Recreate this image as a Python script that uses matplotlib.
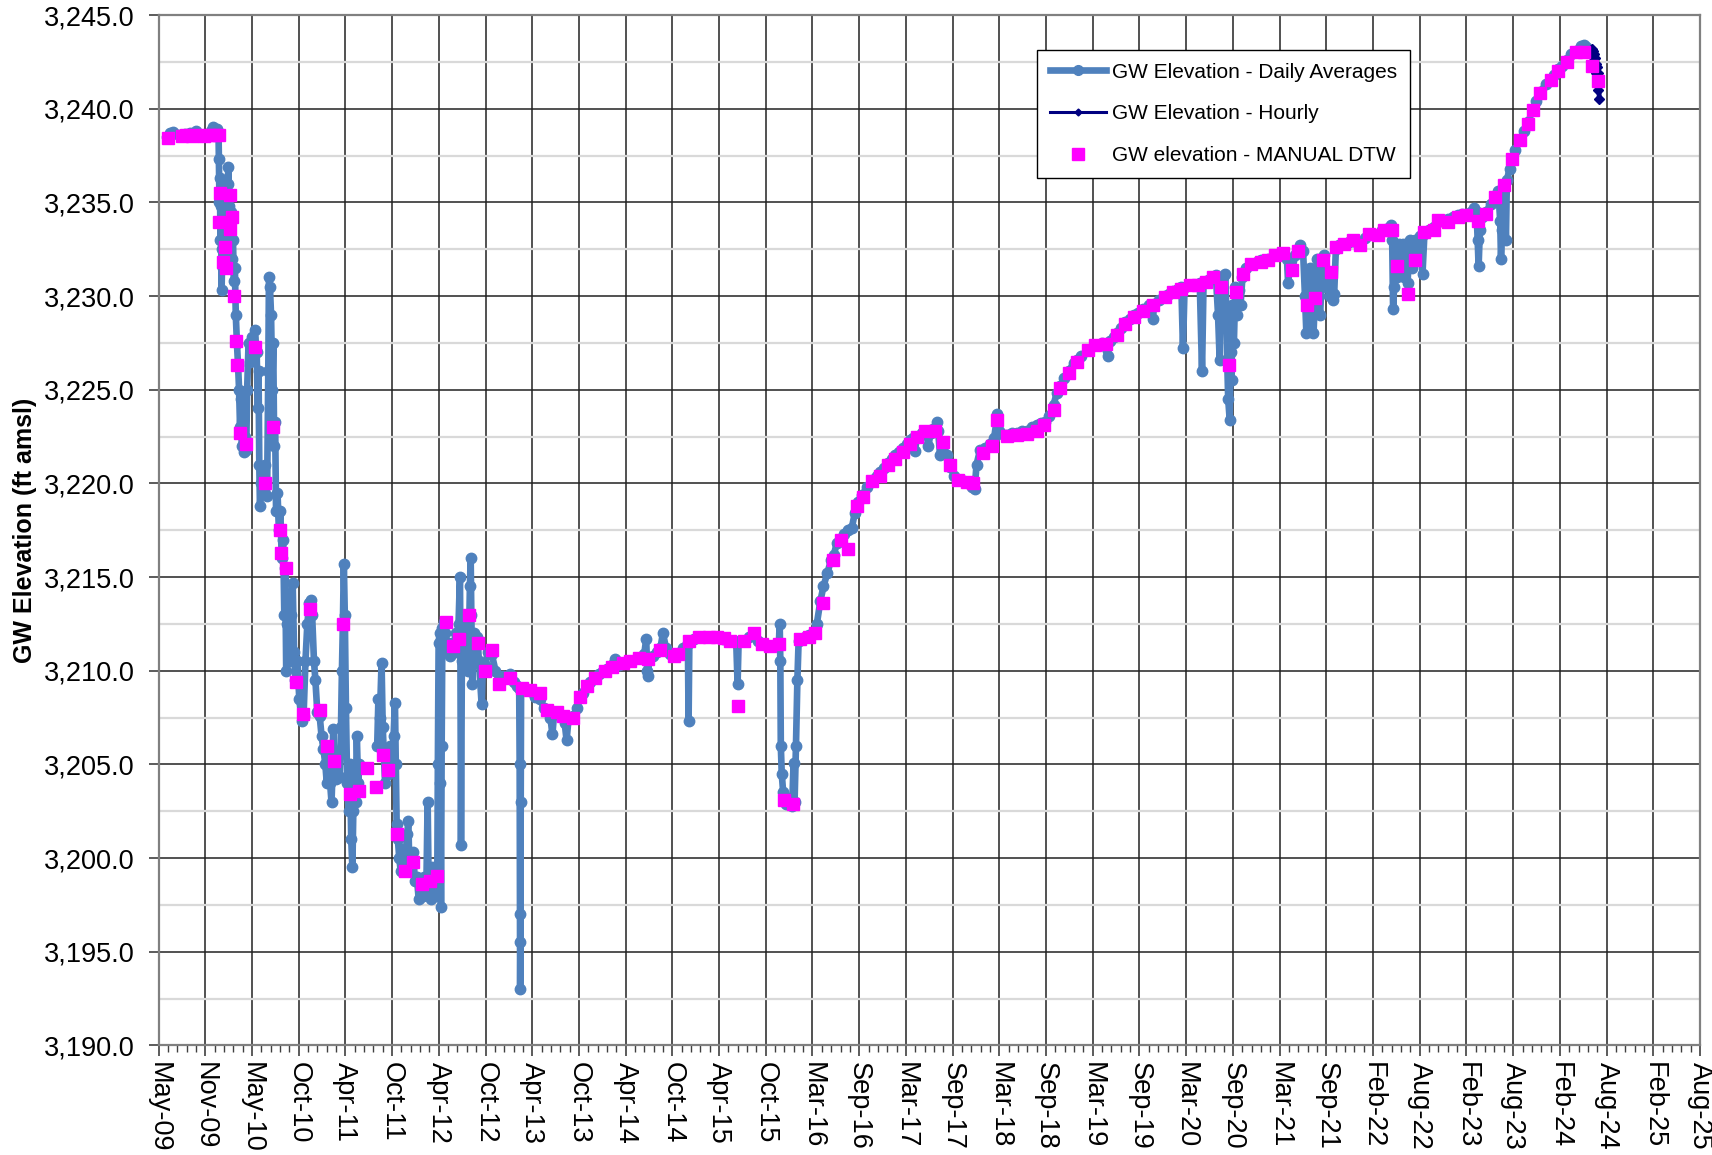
import numpy as np
import matplotlib
matplotlib.use('Agg')
import matplotlib.pyplot as plt
import matplotlib.dates as mdates
from matplotlib.ticker import FixedLocator, FuncFormatter, MultipleLocator
from matplotlib.lines import Line2D

plt.rcParams['font.family'] = ['Liberation Sans', 'DejaVu Sans']

# GW elevation, daily averages: (decimal year, ft amsl). None = gap in logger record
daily_2009_2010 = [
    (2009.430, 3238.5), (2009.470, 3238.7), (2009.500, 3238.75), (2009.560, 3238.6),
    (2009.620, 3238.65), (2009.680, 3238.7), (2009.745, 3238.8), (2009.800, 3238.6),
    (2009.850, 3238.6), (2009.900, 3238.8), (2009.920, 3239.0), (2009.960, 3238.9),
    (2009.978, 3238.7), (2009.982, 3237.3), (2009.988, 3235.0), (2009.993, 3236.3),
    (2009.998, 3233.0), (2010.004, 3234.8), (2010.010, 3230.3), (2010.018, 3232.5),
    (2010.026, 3231.5), (2010.035, 3234.0), (2010.045, 3232.0), (2010.055, 3235.2),
    (2010.065, 3233.5), (2010.075, 3236.0), (2010.082, 3236.9), (2010.090, 3234.8),
    (2010.100, 3233.2), (2010.110, 3234.5), (2010.120, 3232.0), (2010.130, 3233.0),
    (2010.140, 3230.8), (2010.150, 3231.5), (2010.160, 3229.0), (2010.172, 3227.5),
    (2010.184, 3226.3), (2010.195, 3225.0), (2010.205, 3223.0), (2010.215, 3224.5),
    (2010.225, 3222.0), (2010.235, 3223.5), (2010.245, 3221.7), (2010.258, 3222.5),
    (2010.270, 3221.8), (2010.280, 3225.0), (2010.295, 3227.5), (2010.315, 3226.5),
    (2010.335, 3227.8), (2010.360, 3228.2), (2010.380, 3227.0), (2010.393, 3224.0),
    (2010.400, 3226.0), (2010.408, 3221.0), (2010.415, 3218.8), (2010.430, 3220.0),
    (2010.450, 3219.5), (2010.470, 3221.0), (2010.490, 3219.3), (2010.503, 3226.0),
    (2010.510, 3231.0), (2010.520, 3230.5), (2010.532, 3229.0), (2010.545, 3225.0),
    (2010.555, 3227.5), (2010.565, 3222.0), (2010.575, 3223.3), (2010.585, 3218.5),
]

daily_2010_2012 = [
    (2010.600, 3219.5), (2010.615, 3217.5), (2010.630, 3218.5), (2010.645, 3216.0),
    (2010.660, 3217.0), (2010.672, 3213.0), (2010.682, 3215.5), (2010.692, 3210.0),
    (2010.705, 3212.5), (2010.720, 3210.5), (2010.740, 3213.0), (2010.760, 3214.7),
    (2010.775, 3211.0), (2010.790, 3209.5), (2010.810, 3210.5), (2010.830, 3208.5),
    (2010.855, 3207.3), (2010.875, 3207.6), (2010.895, 3210.5), (2010.915, 3212.5),
    (2010.935, 3213.6), (2010.950, 3213.8), (2010.965, 3213.0), (2010.985, 3210.5),
    (2011.000, 3209.5), (2011.020, 3207.8), (2011.045, 3207.6), (2011.065, 3206.5),
    (2011.085, 3205.8), (2011.105, 3205.0), (2011.120, 3204.0), (2011.140, 3205.5),
    (2011.155, 3204.0), (2011.170, 3203.0), (2011.180, 3204.5), (2011.188, 3206.9),
    (2011.200, 3205.0), (2011.215, 3204.2), (2011.235, 3205.5), (2011.255, 3204.3),
    (2011.270, 3207.0), (2011.280, 3210.0), (2011.290, 3212.5), (2011.300, 3215.7),
    (2011.310, 3213.0), (2011.322, 3208.0), (2011.335, 3204.0), (2011.350, 3202.5),
    (2011.365, 3205.0), (2011.378, 3201.0), (2011.390, 3199.5), (2011.400, 3202.5),
    (2011.412, 3204.5), (2011.425, 3203.0), (2011.437, 3206.5), (2011.450, 3204.0),
    (2011.465, 3205.0), (2011.550, None),
    (2011.652, 3206.0), (2011.665, 3208.5), (2011.680, 3207.5), (2011.698, 3210.4),
    (2011.710, 3207.0), (2011.722, 3205.5), (2011.735, 3204.0), (2011.750, 3205.3),
    (2011.770, 3204.5), (2011.790, 3206.0), (2011.810, 3205.0), (2011.825, 3206.5),
    (2011.839, 3208.3), (2011.848, 3205.0), (2011.857, 3201.8), (2011.870, 3201.0),
    (2011.885, 3200.0), (2011.900, 3199.3), (2011.915, 3200.5), (2011.930, 3199.5),
    (2011.950, 3200.0), (2011.970, 3201.3), (2011.980, 3202.0), (2011.990, 3199.8),
    (2012.010, 3199.5), (2012.030, 3200.3), (2012.050, 3198.8), (2012.070, 3199.0),
    (2012.090, 3197.8), (2012.110, 3198.6), (2012.130, 3198.0), (2012.150, 3199.0),
    (2012.170, 3198.2), (2012.184, 3203.0), (2012.195, 3198.5), (2012.215, 3197.8),
    (2012.235, 3199.5), (2012.255, 3198.0), (2012.270, 3199.0), (2012.285, 3198.0),
    (2012.292, 3205.0), (2012.300, 3211.5), (2012.310, 3212.0), (2012.318, 3204.0),
    (2012.325, 3197.4), (2012.332, 3206.0), (2012.340, 3212.3),
]

daily_2012_2014 = [
    (2012.355, 3212.6), (2012.370, 3212.0), (2012.385, 3211.0), (2012.400, 3211.5),
    (2012.420, 3210.8), (2012.440, 3211.5), (2012.460, 3211.0), (2012.480, 3212.0),
    (2012.495, 3211.0), (2012.510, 3212.5), (2012.525, 3215.0), (2012.530, 3211.0),
    (2012.536, 3200.7), (2012.545, 3210.5), (2012.560, 3211.5), (2012.580, 3211.0),
    (2012.600, 3212.5), (2012.615, 3210.0), (2012.630, 3214.5), (2012.638, 3216.0),
    (2012.645, 3213.0), (2012.655, 3209.3), (2012.670, 3212.0), (2012.690, 3211.3),
    (2012.710, 3211.8), (2012.725, 3210.5), (2012.754, 3208.2), (2012.765, 3210.0),
    (2012.790, 3210.3), (2012.820, 3211.0), (2012.860, 3210.9), (2012.900, 3210.0),
    (2012.937, 3209.4), (2012.980, 3209.7), (2013.020, 3209.6), (2013.054, 3209.8),
    (2013.090, 3209.4), (2013.130, 3209.2), (2013.150, 3209.1), (2013.155, 3205.0),
    (2013.158, 3197.0), (2013.160, 3193.0), (2013.163, 3195.5), (2013.166, 3203.0),
    (2013.170, 3209.1), (2013.210, 3209.0), (2013.265, 3208.9), (2013.320, 3208.6),
    (2013.370, 3208.5), (2013.410, 3208.0), (2013.440, 3207.9), (2013.480, 3207.5),
    (2013.500, 3206.6), (2013.520, 3207.8), (2013.550, 3207.7), (2013.590, 3207.6),
    (2013.630, 3207.2), (2013.650, 3206.3), (2013.670, 3207.4), (2013.720, 3207.6),
    (2013.760, 3208.0), (2013.790, 3208.6), (2013.820, 3208.8), (2013.863, 3209.2),
    (2013.900, 3209.4), (2013.950, 3209.6),
]

daily_2014_2016 = [
    (2013.990, 3209.8), (2014.030, 3210.0), (2014.080, 3210.1), (2014.127, 3210.3),
    (2014.162, 3210.6), (2014.200, 3210.3), (2014.250, 3210.4), (2014.320, 3210.5),
    (2014.400, 3210.7), (2014.470, 3210.9), (2014.490, 3211.7), (2014.500, 3210.0),
    (2014.510, 3209.7), (2014.520, 3210.6), (2014.560, 3210.8), (2014.600, 3211.0),
    (2014.640, 3211.2), (2014.666, 3212.0), (2014.700, 3211.2), (2014.740, 3210.9),
    (2014.780, 3210.8), (2014.830, 3210.9), (2014.880, 3211.2), (2014.930, 3211.5),
    (2014.937, 3207.3), (2014.945, 3211.5), (2014.990, 3211.7), (2015.040, 3211.8),
    (2015.100, 3211.8), (2015.150, 3211.8), (2015.230, 3211.8), (2015.300, 3211.7),
    (2015.370, 3211.6), (2015.440, 3211.5), (2015.454, 3209.3), (2015.465, 3211.6),
    (2015.520, 3211.6), (2015.570, 3211.8), (2015.620, 3211.9), (2015.670, 3211.6),
    (2015.710, 3211.4), (2015.760, 3211.3), (2015.800, 3211.3), (2015.850, 3211.3),
    (2015.890, 3211.5), (2015.898, 3212.5), (2015.905, 3210.5), (2015.910, 3206.0),
    (2015.920, 3204.5), (2015.935, 3203.5), (2015.950, 3203.0), (2015.970, 3202.9),
    (2015.990, 3203.2), (2016.010, 3203.0), (2016.030, 3202.8), (2016.045, 3205.1),
    (2016.055, 3203.0), (2016.070, 3206.0), (2016.085, 3209.5), (2016.098, 3211.6),
    (2016.130, 3211.7), (2016.170, 3211.8), (2016.210, 3211.9), (2016.250, 3212.0),
    (2016.290, 3212.5), (2016.327, 3213.7), (2016.360, 3214.5), (2016.400, 3215.2),
    (2016.440, 3215.9),
]

daily_2016_2019 = [
    (2016.470, 3216.2), (2016.500, 3216.8), (2016.540, 3217.0), (2016.580, 3217.3),
    (2016.620, 3217.5), (2016.658, 3217.6), (2016.690, 3218.4), (2016.720, 3219.0),
    (2016.770, 3219.4), (2016.820, 3219.8), (2016.870, 3220.2), (2016.920, 3220.4),
    (2016.960, 3220.6), (2017.000, 3220.8), (2017.045, 3221.1), (2017.080, 3221.3),
    (2017.116, 3221.5), (2017.160, 3221.7), (2017.200, 3221.9), (2017.240, 3222.1),
    (2017.274, 3222.3), (2017.310, 3222.4), (2017.327, 3221.75), (2017.344, 3222.5),
    (2017.400, 3222.7), (2017.440, 3222.8), (2017.468, 3222.0), (2017.490, 3222.7),
    (2017.520, 3222.9), (2017.556, 3223.3), (2017.570, 3222.8), (2017.590, 3221.5),
    (2017.626, 3222.0), (2017.660, 3221.5), (2017.696, 3220.9), (2017.740, 3220.4),
    (2017.790, 3220.2), (2017.840, 3220.1), (2017.880, 3220.0), (2017.930, 3219.8),
    (2017.955, 3219.7), (2017.975, 3221.0), (2018.013, 3221.8), (2018.060, 3221.9),
    (2018.120, 3222.1), (2018.160, 3222.4), (2018.196, 3223.7), (2018.210, 3222.8),
    (2018.260, 3222.6), (2018.300, 3222.6), (2018.350, 3222.7), (2018.400, 3222.7),
    (2018.450, 3222.8), (2018.506, 3222.8), (2018.560, 3223.0), (2018.612, 3223.1),
    (2018.660, 3223.2), (2018.700, 3223.3), (2018.740, 3223.6), (2018.788, 3224.2),
    (2018.820, 3224.8), (2018.858, 3225.2), (2018.900, 3225.6), (2018.946, 3226.0),
    (2019.000, 3226.4), (2019.034, 3226.6),
]

daily_2019_2021 = [
    (2019.080, 3226.8), (2019.150, 3227.1), (2019.220, 3227.4), (2019.300, 3227.5),
    (2019.361, 3226.8), (2019.380, 3227.6), (2019.420, 3227.8), (2019.460, 3228.0),
    (2019.500, 3228.3), (2019.537, 3228.6), (2019.590, 3228.8), (2019.636, 3229.0),
    (2019.680, 3229.1), (2019.730, 3229.3), (2019.790, 3229.5), (2019.836, 3228.8),
    (2019.850, 3229.6), (2019.900, 3229.8), (2019.960, 3230.0), (2020.010, 3230.1),
    (2020.048, 3230.25), (2020.100, 3230.4), (2020.136, 3230.5), (2020.153, 3227.2),
    (2020.170, 3230.5), (2020.224, 3230.6), (2020.280, 3230.6), (2020.330, 3230.7),
    (2020.354, 3226.0), (2020.370, 3230.7), (2020.400, 3230.8), (2020.440, 3230.9),
    (2020.470, 3231.0), (2020.500, 3231.1), (2020.523, 3229.0), (2020.540, 3226.6),
    (2020.550, 3230.5), (2020.580, 3231.0), (2020.600, 3231.2), (2020.610, 3229.0),
    (2020.620, 3226.5), (2020.630, 3224.5), (2020.646, 3223.4), (2020.655, 3227.0),
    (2020.665, 3225.5), (2020.675, 3229.5), (2020.690, 3227.5), (2020.705, 3230.5),
    (2020.720, 3229.0), (2020.740, 3230.3), (2020.760, 3229.5), (2020.780, 3231.0),
    (2020.820, 3231.5), (2020.875, 3231.7), (2020.930, 3231.8), (2020.980, 3231.9),
    (2021.050, 3232.0), (2021.121, 3232.2), (2021.210, 3232.3), (2021.250, 3232.0),
    (2021.262, 3230.7), (2021.280, 3231.5), (2021.304, 3231.4), (2021.340, 3232.2),
    (2021.385, 3232.7), (2021.420, 3232.4), (2021.440, 3230.0), (2021.455, 3228.0),
    (2021.470, 3230.5), (2021.490, 3231.5), (2021.510, 3229.0), (2021.530, 3228.0),
    (2021.550, 3230.5), (2021.570, 3232.0), (2021.585, 3230.0), (2021.600, 3229.0),
    (2021.620, 3231.5), (2021.640, 3232.2), (2021.660, 3230.5), (2021.680, 3231.2),
    (2021.700, 3230.0), (2021.715, 3231.3), (2021.735, 3229.8),
]

daily_2021_2024 = [
    (2021.748, 3230.1), (2021.766, 3232.5), (2021.800, 3232.7), (2021.854, 3232.8),
    (2021.900, 3232.9), (2021.942, 3233.0), (2021.980, 3232.9), (2022.023, 3232.7),
    (2022.070, 3233.1), (2022.118, 3233.3), (2022.160, 3233.3), (2022.206, 3233.3),
    (2022.250, 3233.5), (2022.300, 3233.6), (2022.346, 3233.8), (2022.360, 3233.0),
    (2022.370, 3229.3), (2022.380, 3230.5), (2022.395, 3232.5), (2022.410, 3231.0),
    (2022.430, 3232.8), (2022.450, 3231.5), (2022.470, 3232.8), (2022.490, 3231.0),
    (2022.510, 3232.5), (2022.522, 3230.7), (2022.545, 3233.0), (2022.570, 3231.5),
    (2022.600, 3233.0), (2022.620, 3232.0), (2022.650, 3233.2), (2022.680, 3231.2),
    (2022.700, 3233.3), (2022.750, 3233.5), (2022.797, 3233.7), (2022.839, 3234.0),
    (2022.890, 3234.0), (2022.945, 3234.1), (2023.000, 3234.2), (2023.050, 3234.3),
    (2023.100, 3234.4), (2023.138, 3234.4), (2023.190, 3234.5), (2023.226, 3234.7),
    (2023.250, 3234.5), (2023.262, 3233.0), (2023.272, 3231.6), (2023.285, 3233.5),
    (2023.310, 3234.2), (2023.350, 3234.5), (2023.400, 3234.9), (2023.448, 3235.3),
    (2023.480, 3235.6), (2023.500, 3234.0), (2023.508, 3232.0), (2023.520, 3233.5),
    (2023.530, 3235.5), (2023.543, 3235.9), (2023.560, 3233.0), (2023.570, 3236.2),
    (2023.600, 3236.8), (2023.620, 3237.3), (2023.660, 3237.8), (2023.712, 3238.4),
    (2023.750, 3238.8), (2023.796, 3239.3), (2023.849, 3240.0), (2023.880, 3240.4),
    (2023.923, 3240.9), (2023.980, 3241.3), (2024.036, 3241.6), (2024.070, 3241.8),
    (2024.106, 3242.1), (2024.150, 3242.3), (2024.205, 3242.6), (2024.250, 3242.9),
    (2024.300, 3243.1), (2024.350, 3243.35), (2024.388, 3243.4), (2024.410, 3243.3),
    (2024.430, 3243.0),
]

# GW elevation, hourly logger readings at the end of the record
hourly_2024 = [
    (2024.470, 3243.2), (2024.475, 3242.9), (2024.480, 3243.1), (2024.485, 3242.7),
    (2024.490, 3242.9), (2024.495, 3242.4), (2024.500, 3242.7), (2024.505, 3242.2),
    (2024.510, 3242.4), (2024.515, 3241.9), (2024.520, 3242.2), (2024.525, 3241.6),
    (2024.530, 3241.9), (2024.535, 3241.0), (2024.540, 3241.5), (2024.545, 3240.5),
]

# GW elevation from manual depth-to-water measurements
manual_dtw = [
    (2009.450, 3238.45), (2009.590, 3238.55), (2009.640, 3238.6), (2009.700, 3238.55),
    (2009.760, 3238.6), (2009.820, 3238.55), (2009.880, 3238.6), (2009.940, 3238.6),
    (2009.980, 3238.6), (2009.984, 3233.95), (2009.990, 3235.5), (2010.027, 3231.8),
    (2010.050, 3232.6), (2010.062, 3231.5), (2010.097, 3235.4), (2010.104, 3233.6),
    (2010.115, 3234.2), (2010.140, 3230.0), (2010.160, 3227.6), (2010.178, 3226.3),
    (2010.203, 3222.7), (2010.266, 3222.1), (2010.360, 3227.3), (2010.467, 3220.0),
    (2010.548, 3223.0), (2010.625, 3217.5), (2010.632, 3216.3), (2010.695, 3215.5),
    (2010.794, 3209.4), (2010.871, 3207.7), (2010.945, 3213.3), (2011.047, 3207.9),
    (2011.118, 3206.0), (2011.200, 3205.2), (2011.294, 3212.5), (2011.364, 3203.4),
    (2011.455, 3203.6), (2011.540, 3204.8), (2011.638, 3203.8), (2011.716, 3205.5),
    (2011.765, 3204.7), (2011.864, 3201.3), (2011.945, 3199.3), (2012.030, 3199.8),
    (2012.120, 3198.6), (2012.208, 3198.8), (2012.286, 3199.05), (2012.374, 3212.6),
    (2012.455, 3211.3), (2012.518, 3211.7), (2012.620, 3213.0), (2012.720, 3211.5),
    (2012.790, 3210.0), (2012.860, 3211.1), (2012.937, 3209.3), (2013.054, 3209.6),
    (2013.177, 3209.1), (2013.265, 3208.96), (2013.370, 3208.8), (2013.440, 3207.9),
    (2013.546, 3207.8), (2013.617, 3207.6), (2013.720, 3207.5), (2013.793, 3208.6),
    (2013.863, 3209.2), (2013.951, 3209.6), (2014.057, 3210.0), (2014.127, 3210.2),
    (2014.250, 3210.4), (2014.320, 3210.5), (2014.409, 3210.7), (2014.514, 3210.6),
    (2014.638, 3211.1), (2014.778, 3210.8), (2014.830, 3210.9), (2014.937, 3211.6),
    (2015.042, 3211.8), (2015.148, 3211.8), (2015.236, 3211.8), (2015.306, 3211.75),
    (2015.377, 3211.6), (2015.454, 3208.1), (2015.517, 3211.6), (2015.623, 3212.0),
    (2015.711, 3211.4), (2015.799, 3211.3), (2015.887, 3211.4), (2015.947, 3203.1),
    (2016.035, 3202.9), (2016.116, 3211.7), (2016.204, 3211.8), (2016.274, 3212.0),
    (2016.355, 3213.6), (2016.460, 3215.9), (2016.542, 3217.0), (2016.623, 3216.5),
    (2016.711, 3218.8), (2016.774, 3219.25), (2016.869, 3220.1), (2016.957, 3220.4),
    (2017.045, 3221.0), (2017.116, 3221.3), (2017.197, 3221.7), (2017.274, 3222.1),
    (2017.344, 3222.5), (2017.432, 3222.8), (2017.538, 3222.8), (2017.626, 3222.2),
    (2017.696, 3221.0), (2017.784, 3220.2), (2017.872, 3220.05), (2017.943, 3220.0),
    (2018.048, 3221.6), (2018.136, 3222.0), (2018.196, 3223.4), (2018.295, 3222.55),
    (2018.400, 3222.6), (2018.506, 3222.65), (2018.612, 3222.8), (2018.682, 3223.1),
    (2018.788, 3223.9), (2018.858, 3225.1), (2018.946, 3225.9), (2019.034, 3226.5),
    (2019.150, 3227.1), (2019.220, 3227.4), (2019.344, 3227.45), (2019.460, 3227.9),
    (2019.537, 3228.5), (2019.636, 3228.9), (2019.730, 3229.2), (2019.836, 3229.5),
    (2019.960, 3229.95), (2020.048, 3230.2), (2020.136, 3230.4), (2020.224, 3230.6),
    (2020.312, 3230.6), (2020.400, 3230.75), (2020.470, 3231.0), (2020.558, 3230.5),
    (2020.635, 3226.3), (2020.716, 3230.2), (2020.787, 3231.2), (2020.875, 3231.7),
    (2020.980, 3231.8), (2021.050, 3231.9), (2021.121, 3232.2), (2021.210, 3232.3),
    (2021.304, 3231.4), (2021.368, 3232.4), (2021.466, 3229.5), (2021.544, 3229.9),
    (2021.632, 3231.9), (2021.713, 3231.3), (2021.772, 3232.6), (2021.854, 3232.8),
    (2021.942, 3233.0), (2022.023, 3232.7), (2022.118, 3233.3), (2022.206, 3233.25),
    (2022.276, 3233.5), (2022.353, 3233.5), (2022.410, 3231.6), (2022.522, 3230.1),
    (2022.600, 3231.9), (2022.698, 3233.4), (2022.797, 3233.55), (2022.839, 3234.05),
    (2022.945, 3233.96), (2023.050, 3234.2), (2023.138, 3234.3), (2023.262, 3234.0),
    (2023.350, 3234.4), (2023.448, 3235.3), (2023.543, 3235.9), (2023.620, 3237.3),
    (2023.712, 3238.35), (2023.796, 3239.2), (2023.849, 3239.95), (2023.923, 3240.85),
    (2024.036, 3241.55), (2024.106, 3242.0), (2024.205, 3242.5), (2024.300, 3243.0),
    (2024.388, 3243.05), (2024.469, 3242.3), (2024.536, 3241.5),
]

legend_labels = ['GW Elevation - Daily Averages', 'GW Elevation - Hourly',
                 'GW elevation - MANUAL DTW']


def to_xy(pairs):
    arr = np.array(pairs, dtype=float)
    hrs = np.round((arr[:, 0] - 2009) * 365.25 * 24).astype('int64')
    return np.datetime64('2009-01-01T00') + hrs.astype('timedelta64[h]'), arr[:, 1]


daily = (daily_2009_2010 + daily_2010_2012 + daily_2012_2014 + daily_2014_2016
         + daily_2016_2019 + daily_2019_2021 + daily_2021_2024)
dx, dy = to_xy(daily)
hx, hy = to_xy(hourly_2024)
mx, my = to_xy(manual_dtw)

blue = '#4F81BD'
navy = '#000080'
magenta = '#FF00FF'

fig = plt.figure(figsize=(17.12, 11.55), dpi=100)
ax = fig.add_axes([0.0926, 0.0949, 0.9004, 0.8921])

ax.plot(dx, dy, '-o', color=blue, lw=4.8, ms=7.5, mec=blue, zorder=3)
ax.plot(hx, hy, '-D', color=navy, lw=3.5, ms=5, zorder=4)
ax.plot(mx, my, 's', color=magenta, mec=magenta, ms=9, ls='none', zorder=5)

# x axis: Excel-style date axis, major unit 180 days
start = mdates.date2num(np.datetime64('2009-05-07'))
major = start + 180 * np.arange(34)
minor = start + 36 * np.arange(33 * 5 + 1)
ax.xaxis.set_major_locator(FixedLocator(major))
ax.xaxis.set_minor_locator(FixedLocator(minor))
ax.xaxis.set_major_formatter(mdates.DateFormatter('%b-%y'))
ax.set_xlim(major[0], major[-1])

ax.set_ylim(3190, 3245)
ax.yaxis.set_major_locator(MultipleLocator(5))
ax.yaxis.set_minor_locator(MultipleLocator(2.5))
ax.yaxis.set_major_formatter(FuncFormatter(lambda v, p: f'{v:,.1f}'))

ax.set_axisbelow(True)
ax.grid(which='major', color='#222222', lw=1.1)
ax.grid(which='minor', axis='y', color='#d9d9d9', lw=1.6)

ax.tick_params(axis='x', which='major', length=8, width=1.2, color='#404040',
               labelsize=19.5, labelrotation=-90, pad=4)
ax.tick_params(axis='x', which='minor', length=5, width=1.0, color='#404040')
ax.tick_params(axis='y', which='major', length=7, width=1.2, color='#404040',
               labelsize=19.5, pad=10)
ax.tick_params(axis='y', which='minor', length=0)

for s in ax.spines.values():
    s.set_color('#808080')
    s.set_linewidth(1.6)

ax.set_ylabel('GW Elevation (ft amsl)', fontsize=18, fontweight='bold')
ax.yaxis.set_label_coords(-0.079, 0.5)

handles = [
    Line2D([], [], color=blue, lw=4.8, marker='o', ms=7),
    Line2D([], [], color=navy, lw=2.2, marker='D', ms=3.5),
    Line2D([], [], color=magenta, marker='s', ms=9, ls='none'),
]
leg = ax.legend(handles, legend_labels, loc='upper left', bbox_to_anchor=(0.570, 0.966),
                fontsize=15, frameon=True, fancybox=False, framealpha=1,
                edgecolor='black', handlelength=2.7, handletextpad=0.3,
                labelspacing=1.1, borderpad=0.6, borderaxespad=0)
leg.get_frame().set_linewidth(1.0)

fig.savefig('out.png', dpi=100)
